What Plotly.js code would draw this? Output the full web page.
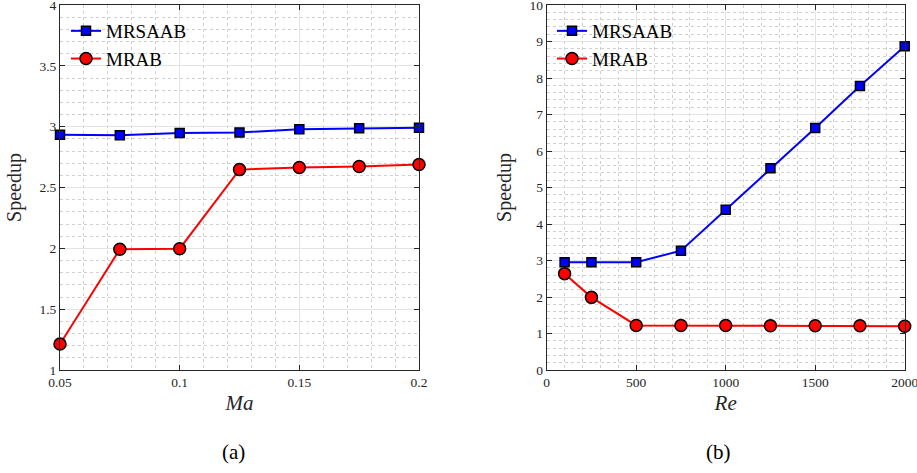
<!DOCTYPE html>
<html>
<head>
<meta charset="utf-8">
<script src="https://cdn.plot.ly/plotly-3.0.1.min.js"></script>
<style>
html,body{margin:0;padding:0;background:#fff;}
#chart{width:917px;height:473px;}
</style>
</head>
<body>
<div id="chart"></div>
<script>
// Panel (a): speedup vs Mach number
const maValues = [0.05, 0.075, 0.1, 0.125, 0.15, 0.175, 0.2];
const maMRSAAB = [2.933, 2.930, 2.947, 2.953, 2.978, 2.986, 2.992];
const maMRAB   = [1.213, 1.992, 1.997, 2.647, 2.664, 2.672, 2.689];

// Panel (b): speedup vs Reynolds number
const reValues = [100, 250, 500, 750, 1000, 1250, 1500, 1750, 2000];
const reMRSAAB = [2.95, 2.95, 2.95, 3.27, 4.39, 5.53, 6.63, 7.78, 8.87];
const reMRAB   = [2.64, 1.99, 1.22, 1.22, 1.22, 1.21, 1.21, 1.21, 1.20];

const seriesNames = ['MRSAAB', 'MRAB'];
const panelLabels = ['(a)', '(b)'];

const FONT = 'Liberation Serif';
const W = 917, H = 473;
const TOP = 5, BOTTOM = 370;          // plot area top / bottom in pixels
const PH = BOTTOM - TOP;
function py(pix) { return (BOTTOM - pix) / PH; }   // pixel row -> paper y

const blueStyle = {
  mode: 'lines+markers',
  line: {color: '#0000ff', width: 2},
  marker: {symbol: 'square', size: 9, color: '#0000ff', line: {color: '#000', width: 1.5}}
};
const redStyle = {
  mode: 'lines+markers',
  line: {color: '#ff0000', width: 2},
  marker: {symbol: 'circle', size: 12, color: '#ff0000', line: {color: '#000', width: 1.5}}
};

const traces = [
  Object.assign({x: maValues, y: maMRSAAB, name: seriesNames[0], xaxis: 'x', yaxis: 'y', legend: 'legend', cliponaxis: false}, blueStyle),
  Object.assign({x: maValues, y: maMRAB, name: seriesNames[1], xaxis: 'x', yaxis: 'y', legend: 'legend', cliponaxis: false}, redStyle),
  Object.assign({x: reValues, y: reMRSAAB, name: seriesNames[0], xaxis: 'x2', yaxis: 'y2', legend: 'legend2', cliponaxis: false}, blueStyle),
  Object.assign({x: reValues, y: reMRAB, name: seriesNames[1], xaxis: 'x2', yaxis: 'y2', legend: 'legend2', cliponaxis: false}, redStyle)
];

function axisBase(extra) {
  return Object.assign({
    showline: true, linecolor: '#262626', linewidth: 1, mirror: 'allticks',
    ticks: 'inside', ticklen: 5, tickwidth: 1, tickcolor: '#262626',
    showgrid: true, gridcolor: '#e3e3e3', gridwidth: 1,
    zeroline: false, ticklabeloverflow: 'allow',
    tickfont: {family: FONT, size: 13.5, color: '#262626'},
    fixedrange: true
  }, extra);
}

const minorStyle = {showgrid: true, gridcolor: '#d0d0d0', griddash: 'dot', gridwidth: 1, ticks: ''};

const leftX0 = 60 / W, leftX1 = 419 / W;
const rightX0 = 546.7 / W, rightX1 = 904.7 / W;

const layout = {
  width: W, height: H,
  margin: {l: 0, r: 0, t: TOP, b: H - BOTTOM},
  paper_bgcolor: '#fff', plot_bgcolor: '#fff',
  showlegend: true,
  xaxis: axisBase({
    domain: [leftX0, leftX1], anchor: 'y', range: [0.05, 0.2],
    tickvals: [0.05, 0.1, 0.15, 0.2], ticktext: ['0.05', '0.1', '0.15', '0.2'],
    minor: Object.assign({dtick: 0.01, tick0: 0.05}, minorStyle),
    title: {text: '<i>Ma</i>', font: {family: FONT, size: 21, color: '#262626'}, standoff: 6}
  }),
  yaxis: axisBase({
    domain: [0, 1], anchor: 'x', range: [1, 4],
    tickvals: [1, 1.5, 2, 2.5, 3, 3.5, 4], ticktext: ['1', '1.5', '2', '2.5', '3', '3.5', '4'],
    minor: Object.assign({dtick: 0.1, tick0: 1}, minorStyle),
    title: {text: 'Speedup', font: {family: FONT, size: 20, color: '#262626'}, standoff: 12}
  }),
  xaxis2: axisBase({
    domain: [rightX0, rightX1], anchor: 'y2', range: [0, 2000],
    tickvals: [0, 500, 1000, 1500, 2000],
    minor: Object.assign({dtick: 100, tick0: 0}, minorStyle),
    title: {text: '<i>Re</i>', font: {family: FONT, size: 21, color: '#262626'}, standoff: 6}
  }),
  yaxis2: axisBase({
    domain: [0, 1], anchor: 'x2', range: [0, 10],
    tickvals: [0, 1, 2, 3, 4, 5, 6, 7, 8, 9, 10],
    minor: Object.assign({dtick: 0.2, tick0: 0}, minorStyle),
    title: {text: 'Speedup', font: {family: FONT, size: 20, color: '#262626'}, standoff: 12}
  }),
  legend: {
    x: 66 / W, xanchor: 'left', y: py(12), yanchor: 'top', xref: 'paper', yref: 'paper',
    bgcolor: 'rgba(255,255,255,0)', borderwidth: 0,
    font: {family: FONT, size: 19, color: '#000'}, tracegroupgap: 0
  },
  legend2: {
    x: 552 / W, xanchor: 'left', y: py(12), yanchor: 'top', xref: 'paper', yref: 'paper',
    bgcolor: 'rgba(255,255,255,0)', borderwidth: 0,
    font: {family: FONT, size: 19, color: '#000'}, tracegroupgap: 0
  },
  annotations: [
    {text: panelLabels[0], xref: 'paper', yref: 'paper', x: 233 / W, y: py(452), showarrow: false, xanchor: 'center', yanchor: 'middle', font: {family: FONT, size: 21, color: '#000'}},
    {text: panelLabels[1], xref: 'paper', yref: 'paper', x: 718 / W, y: py(452), showarrow: false, xanchor: 'center', yanchor: 'middle', font: {family: FONT, size: 21, color: '#000'}}
  ]
};

Plotly.newPlot('chart', traces, layout, {displayModeBar: false, staticPlot: true});
</script>
</body>
</html>
